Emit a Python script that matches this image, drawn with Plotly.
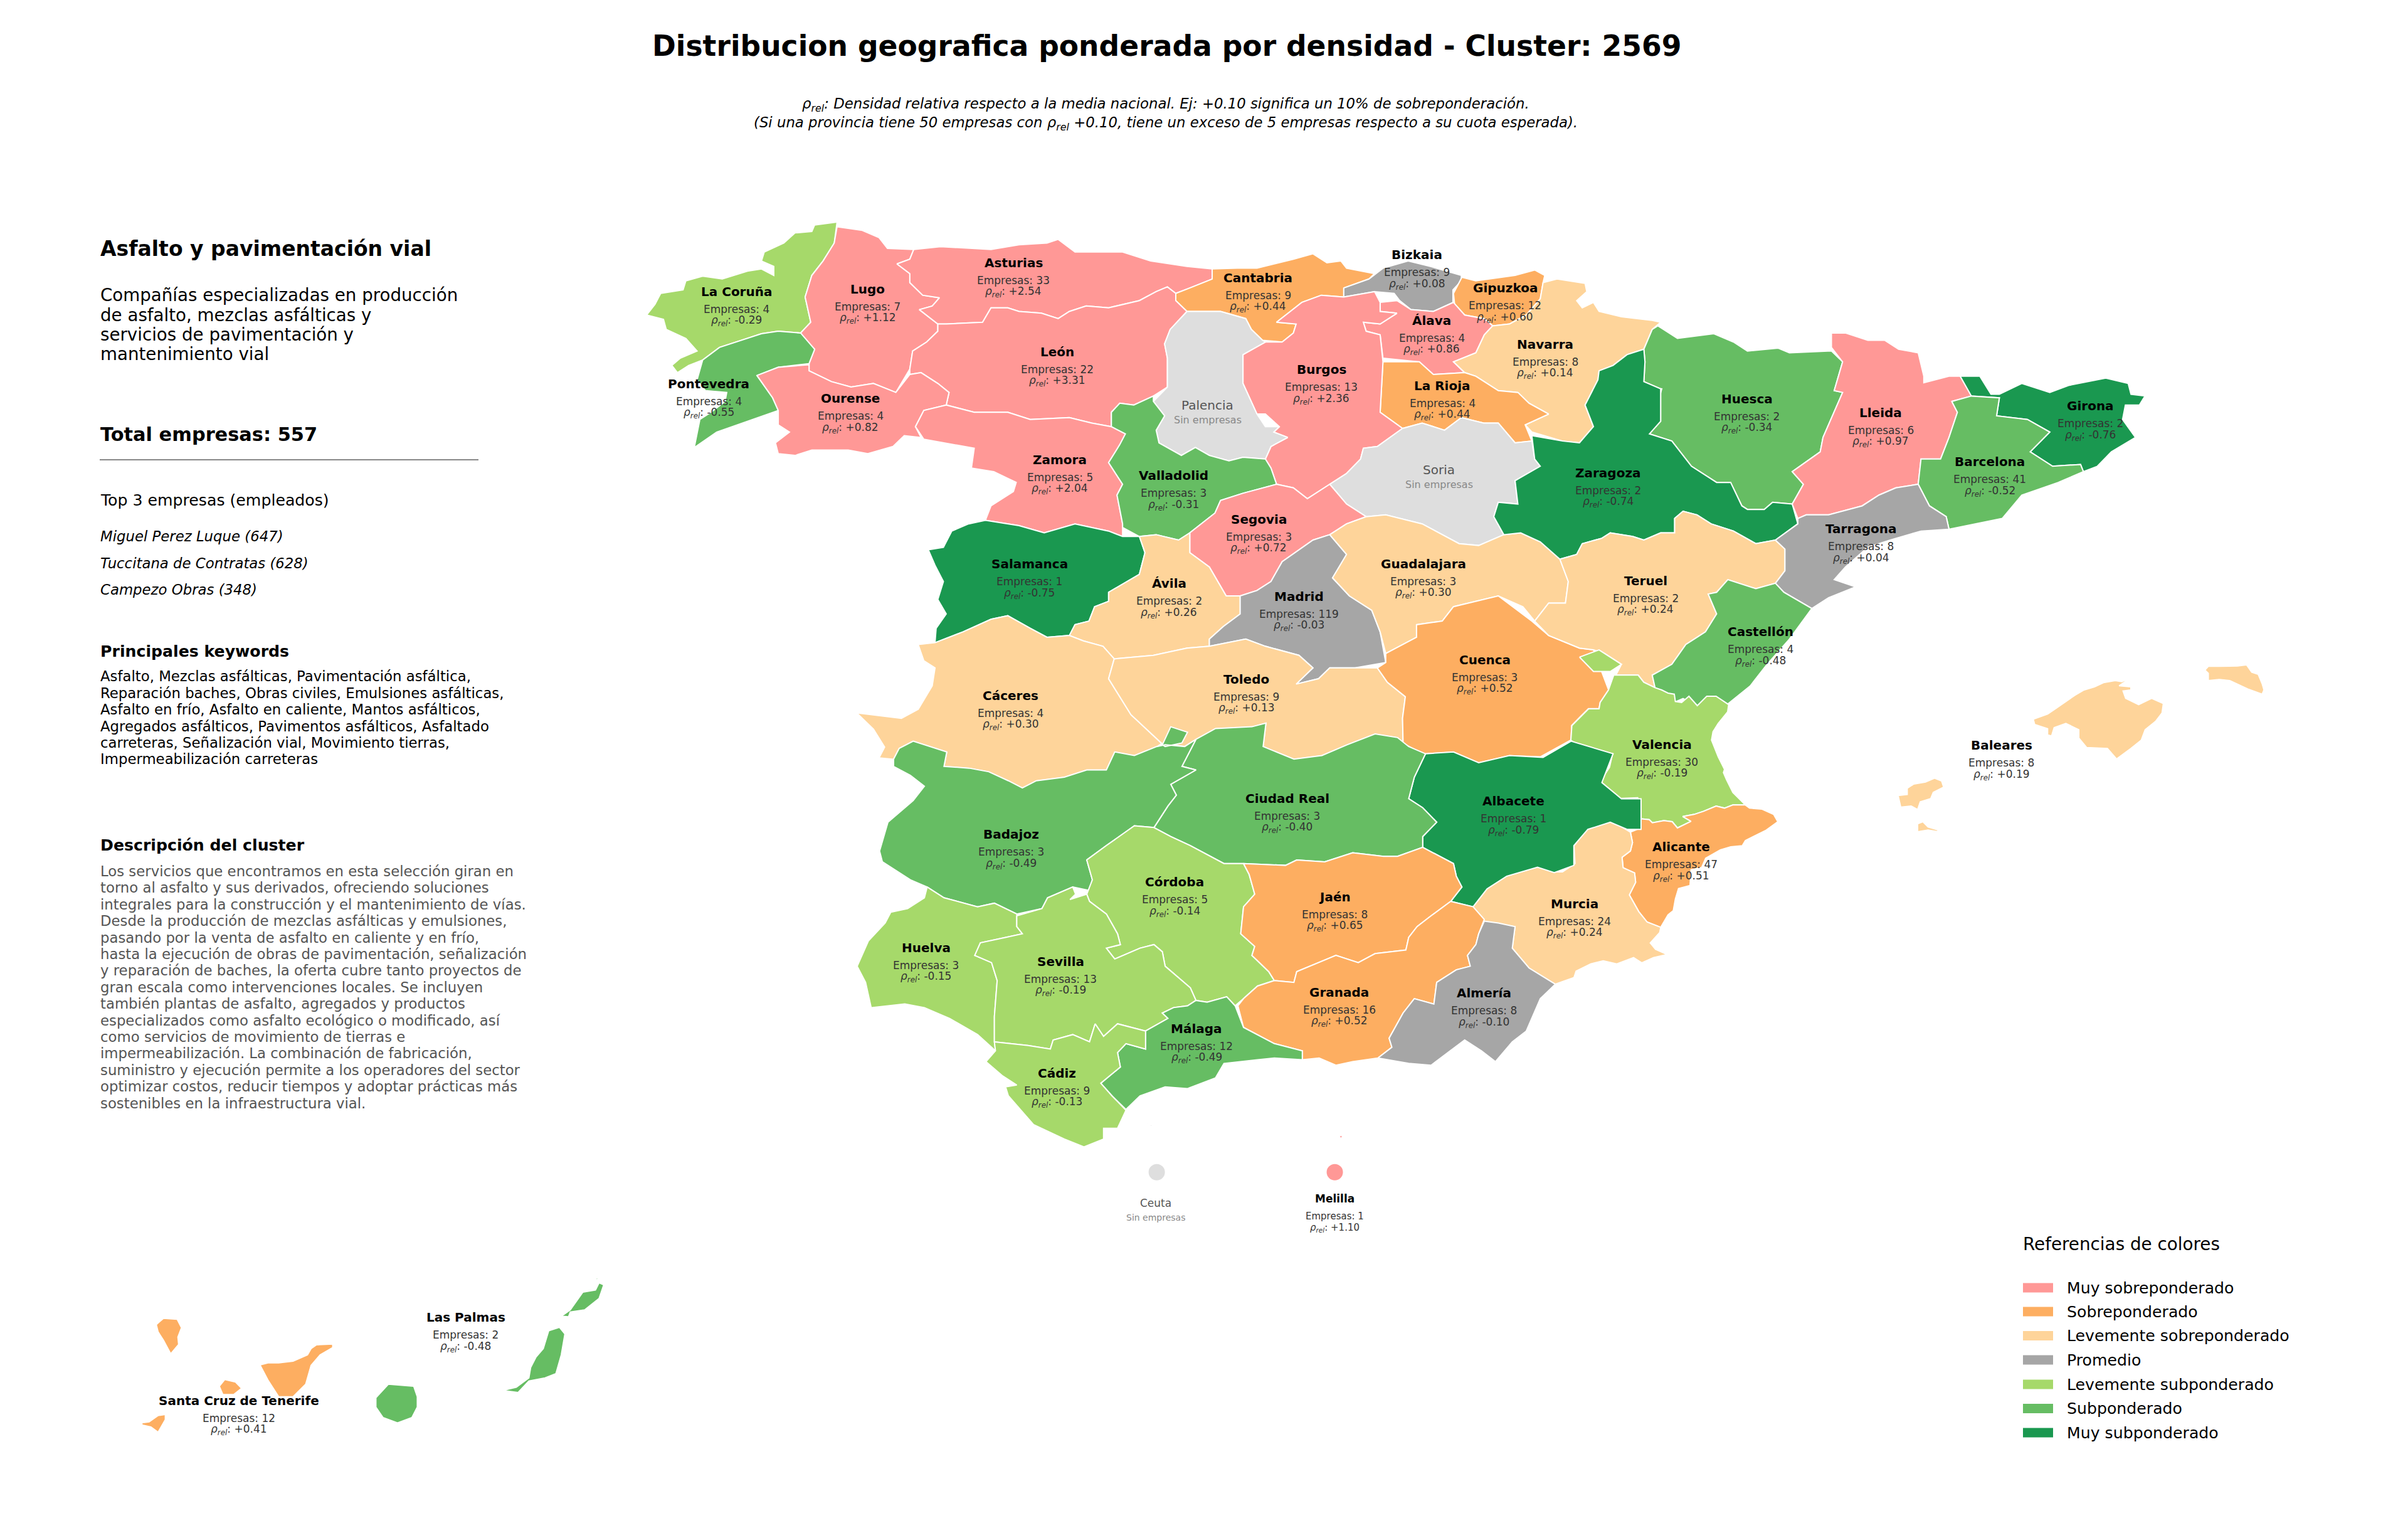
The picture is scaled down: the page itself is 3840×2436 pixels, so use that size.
import numpy as np
import plotly.graph_objects as go

W, H = 3840, 2436
FONT = "DejaVu Sans"

TITLE = "Distribucion geografica ponderada por densidad - Cluster: 2569"
SUBTITLE = ["<i>ρ<sub>rel</sub>: Densidad relativa respecto a la media nacional. Ej: +0.10 significa un 10% de sobreponderación.</i>",
            "<i>(Si una provincia tiene 50 empresas con ρ<sub>rel</sub> +0.10, tiene un exceso de 5 empresas respecto a su cuota esperada).</i>"]

CLASS_NAMES = ["Muy sobreponderado", "Sobreponderado", "Levemente sobreponderado", "Promedio",
               "Levemente subponderado", "Subponderado", "Muy subponderado"]
CLASS_COLORS = ["#FF9896", "#FDAE61", "#FED49A", "#A6A6A6", "#A6D96A", "#66BD63", "#1A9850"]
NO_DATA_COLOR = "#DEDEDE"

PROVINCES = ["La Coruña", "Lugo", "Asturias", "Cantabria", "Bizkaia", "Gipuzkoa", "Álava", "Navarra", "La Rioja", "Burgos",
             "León", "Palencia", "Pontevedra", "Ourense", "Zamora", "Valladolid", "Soria", "Segovia", "Salamanca", "Ávila",
             "Madrid", "Guadalajara", "Cáceres", "Toledo", "Cuenca", "Huesca", "Zaragoza", "Teruel", "Lleida", "Girona",
             "Barcelona", "Tarragona", "Castellón", "Valencia", "Alicante", "Murcia", "Albacete", "Ciudad Real", "Badajoz",
             "Córdoba", "Jaén", "Huelva", "Sevilla", "Granada", "Almería", "Málaga", "Cádiz", "Baleares", "Las Palmas",
             "Santa Cruz de Tenerife", "Ceuta", "Melilla"]
EMPRESAS = [4, 7, 33, 9, 9, 12, 4, 8, 4, 13,
            22, None, 4, 4, 5, 3, None, 3, 1, 2,
            119, 3, 4, 9, 3, 2, 2, 2, 6, 2,
            41, 8, 4, 30, 47, 24, 1, 3, 3,
            5, 8, 3, 13, 16, 8, 12, 9, 8, 2,
            12, None, 1]
RHO = [-0.29, 1.12, 2.54, 0.44, 0.08, 0.60, 0.86, 0.14, 0.44, 2.36,
       3.31, None, -0.55, 0.82, 2.04, -0.31, None, 0.72, -0.75, 0.26,
       -0.03, 0.30, 0.30, 0.13, 0.52, -0.34, -0.74, 0.24, 0.97, -0.76,
       -0.52, 0.04, -0.48, -0.19, 0.51, 0.24, -0.79, -0.40, -0.49,
       -0.14, 0.65, -0.15, -0.19, 0.52, -0.10, -0.49, -0.13, 0.19, -0.48,
       0.41, None, 1.10]

FRAMES = {"N": (1000, 330, 1.12, 1.742), "E": (2300, 330, 1.12, 1.742), "S": (1300, 1150, 1.12, 1.742),
          "V": (2450, 1100, 3.0, 3.0), "B": (3000, 1030, 2.412, 3.0), "C": (100, 2000, 1.742, 3.0)}

OUTLINES = {
 "La Coruña": [("N", [(375,42),(335,50),(330,68),(300,72),(280,100),(245,125),(240,150),(262,165),(262,190),(240,172),(215,178),(170,200),(135,192),(105,205),(100,230),(60,240),(50,270),(35,300),(65,312),(70,340),(105,365),(125,400),(95,420),(80,440),(90,460),(110,440),(135,425),(165,390),(215,365),(240,352),(270,345),(310,350),(328,320),(318,250),(330,190),(350,150),(370,100)])],
 "Pontevedra": [("N", [(310,350),(270,345),(240,352),(215,365),(165,390),(135,425),(125,480),(140,510),(178,515),(175,540),(150,570),(130,590),(120,668),(160,625),(205,600),(270,565),(260,530),(232,468),(270,445),(325,435),(335,395)])],
 "Lugo": [("N", [(375,55),(420,65),(450,85),(465,115),(512,118),(505,145),(482,158),(505,185),(505,210),(528,245),(558,252),(545,275),(522,285),(555,325),(555,345),(535,375),(510,400),(505,450),(480,515),(440,490),(400,500),(365,485),(325,455),(325,435),(335,395),(312,365),(310,350),(328,320),(318,250),(330,190),(350,150),(370,100)])],
 "Asturias": [("N", [(512,118),(560,110),(650,118),(700,105),(750,100),(770,90),(800,125),(850,125),(885,125),(935,150),(1000,165),(1045,172),(1045,200),(1005,225),(980,240),(965,222),(945,235),(915,260),(860,280),(820,275),(790,290),(770,310),(740,295),(700,290),(680,280),(650,280),(635,320),(570,325),(555,325),(522,285),(545,275),(558,252),(528,245),(505,210),(505,185),(482,158),(505,145)])],
 "Cantabria": [("N", [(1045,172),(1090,170),(1125,170),(1190,145),(1225,130),(1250,155),(1275,150),(1285,170),(1335,185),(1325,200),(1280,225),(1280,250),(1240,245),(1205,265),(1185,290),(1160,320),(1195,325),(1190,350),(1170,375),(1135,370),(1115,340),(1105,310),(1060,290),(1000,290),(980,260),(980,240),(1005,225),(1045,200)])],
 "Bizkaia": [("N", [(1280,225),(1325,200),(1350,170),(1395,150),(1435,165),(1490,190),(1490,205),(1475,230),(1475,265),(1440,290),(1400,285),(1380,260),(1370,240),(1335,235),(1280,250)])],
 "Gipuzkoa": [("E", [(35,195),(60,205),(130,190),(165,175),(183,190),(180,210),(175,255),(150,300),(120,325),(90,330),(75,310),(40,300),(22,270),(20,240)])],
 "Álava": [("N", [(1345,265),(1375,260),(1400,285),(1440,290),(1476,265),(1496,300),(1531,310),(1546,330),(1531,355),(1516,405),(1476,430),(1496,460),(1440,465),(1415,430),(1350,420),(1345,355),(1320,345),(1315,320),(1345,325),(1375,295),(1345,290)])],
 "Navarra": [("E", [(205,200),(255,212),(258,235),(240,260),(250,280),(270,265),(280,290),(320,305),(375,315),(390,320),(375,340),(360,395),(330,410),(305,440),(280,455),(278,480),(255,550),(270,610),(245,655),(215,650),(160,625),(148,605),(190,575),(155,545),(135,515),(100,510),(60,470),(40,460),(20,430),(60,405),(75,355),(90,330),(120,325),(150,300),(175,255),(180,210)]),
             ("E", [(300,490),(305,482),(315,488),(310,497)]),
             ("E", [(313,480),(322,470),(330,485)])],
 "La Rioja": [("N", [(1350,430),(1415,430),(1440,465),(1496,460),(1516,470),(1556,510),(1591,515),(1611,545),(1646,575),(1604,605),(1616,650),(1586,655),(1556,600),(1530,600),(1490,585),(1460,620),(1420,600),(1385,615),(1345,570)])],
 "Burgos": [("N", [(1240,245),(1280,250),(1335,235),(1345,265),(1345,290),(1375,295),(1345,325),(1315,320),(1320,345),(1345,355),(1350,430),(1345,570),(1385,615),(1340,665),(1315,670),(1310,700),(1285,740),(1255,770),(1215,810),(1190,780),(1160,770),(1150,725),(1140,700),(1150,665),(1180,640),(1155,625),(1165,610),(1140,575),(1125,575),(1100,490),(1100,410),(1140,375),(1170,375),(1190,350),(1195,325),(1160,320),(1205,265)])],
 "León": [("N", [(570,325),(635,320),(650,280),(680,280),(700,290),(740,295),(770,310),(790,290),(820,275),(860,280),(915,260),(945,235),(965,222),(980,240),(980,260),(1000,290),(970,340),(960,380),(965,420),(965,500),(940,525),(905,550),(880,545),(865,570),(865,610),(830,600),(790,585),(720,590),(680,570),(620,570),(570,550),(575,515),(555,490),(525,460),(505,465),(505,450),(510,400),(535,375),(555,345),(555,325)])],
 "Palencia": [("N", [(1000,290),(1060,290),(1105,310),(1115,340),(1135,370),(1140,375),(1100,410),(1100,490),(1125,575),(1140,610),(1165,610),(1155,625),(1180,640),(1150,665),(1140,700),(1100,695),(1075,705),(1040,690),(1015,668),(990,690),(950,655),(945,620),(960,580),(940,540),(965,500),(965,420),(960,380),(970,340)])],
 "Ourense": [("N", [(232,468),(270,445),(325,438),(325,455),(365,485),(400,500),(440,490),(480,515),(505,465),(525,460),(555,490),(575,515),(570,550),(530,565),(515,610),(525,640),(495,635),(475,665),(430,685),(395,675),(330,675),(300,690),(270,685),(265,655),(290,625),(270,605),(270,565),(260,530)])],
 "Zamora": [("N", [(570,550),(620,570),(680,570),(720,590),(790,585),(830,600),(865,610),(890,630),(880,660),(860,710),(885,770),(875,800),(885,880),(885,915),(860,900),(800,880),(745,905),(700,885),(640,870),(650,830),(690,790),(695,765),(655,735),(615,725),(620,670),(530,645),(515,610),(530,565)])],
 "Valladolid": [("N", [(865,570),(880,545),(905,550),(940,525),(940,540),(960,580),(945,620),(950,655),(990,690),(1015,668),(1040,690),(1075,705),(1100,695),(1140,700),(1150,725),(1160,770),(1100,795),(1060,815),(1050,850),(1005,905),(985,925),(945,910),(915,915),(885,890),(885,880),(875,800),(885,770),(860,710),(880,660),(890,630),(865,610)])],
 "Soria": [("N", [(1385,615),(1420,600),(1460,620),(1490,585),(1530,600),(1556,600),(1586,655),(1616,650),(1621,700),(1631,720),(1586,760),(1591,825),(1556,820),(1548,860),(1566,910),(1521,940),(1486,935),(1456,910),(1420,880),(1380,865),(1355,855),(1320,860),(1285,825),(1255,770),(1285,740),(1310,700),(1315,670),(1340,665)])],
 "Segovia": [("N", [(1160,770),(1190,780),(1215,810),(1255,770),(1285,825),(1320,860),(1285,880),(1255,910),(1225,925),(1170,985),(1150,1040),(1125,1065),(1095,1080),(1070,1080),(1040,1000),(1005,960),(1005,905),(1050,850),(1060,815),(1100,795)])],
 "Salamanca": [("N", [(640,870),(700,885),(745,905),(800,880),(860,900),(885,915),(915,915),(925,960),(915,1020),(860,1070),(860,1095),(835,1110),(825,1150),(800,1160),(790,1190),(750,1195),(720,1170),(680,1135),(650,1145),(600,1180),(550,1210),(552,1170),(570,1130),(555,1090),(565,1040),(550,995),(538,952),(565,945),(580,900),(610,880)])],
 "Ávila": [("N", [(915,915),(945,910),(985,925),(1005,905),(1005,960),(1040,1000),(1070,1080),(1095,1080),(1095,1130),(1065,1165),(1040,1200),(1040,1220),(1000,1225),(940,1245),(870,1255),(850,1220),(815,1205),(790,1190),(800,1160),(825,1150),(835,1110),(860,1095),(860,1070),(915,1020),(925,960)])],
 "Madrid": [("N", [(1255,910),(1285,965),(1260,1030),(1290,1080),(1330,1120),(1345,1180),(1355,1265),(1300,1280),(1255,1280),(1235,1310),(1195,1325),(1225,1280),(1200,1245),(1140,1220),(1105,1200),(1040,1220),(1040,1200),(1065,1165),(1095,1130),(1095,1080),(1125,1065),(1150,1040),(1170,985),(1225,925)])],
 "Guadalajara": [("N", [(1285,880),(1320,860),(1355,855),(1380,865),(1420,880),(1456,910),(1486,935),(1521,940),(1566,910),(1596,905),(1631,930),(1666,978),(1681,1040),(1676,1100),(1646,1100),(1621,1150),(1600,1110),(1556,1080),(1476,1110),(1456,1150),(1410,1160),(1410,1195),(1355,1240),(1345,1180),(1330,1120),(1290,1080),(1260,1030),(1285,965),(1255,910)])],
 "Cáceres": [("N", [(550,1210),(600,1180),(650,1145),(680,1135),(720,1170),(750,1195),(790,1190),(815,1205),(850,1220),(870,1255),(860,1310),(900,1410),(955,1490),(946,1499),(906,1524),(871,1514),(856,1564),(821,1564),(781,1584),(731,1594),(706,1614),(681,1594),(646,1569),(611,1559),(566,1554),(571,1514),(511,1484),(486,1504),(476,1534),(450,1530),(460,1500),(440,1450),(410,1405),(490,1420),(520,1395),(545,1330),(550,1280),(530,1260),(520,1215)])],
 "Toledo": [("N", [(870,1255),(940,1245),(1000,1225),(1040,1220),(1105,1200),(1140,1220),(1200,1245),(1225,1280),(1195,1325),(1235,1310),(1255,1280),(1300,1280),(1340,1280),(1358,1320),(1390,1360),(1385,1420),(1386,1489),(1376,1474),(1336,1464),(1286,1494),(1241,1524),(1191,1534),(1136,1499),(1141,1434),(1116,1444),(1051,1449),(1016,1479),(996,1498),(955,1490),(900,1410),(860,1310)])],
 "Cuenca": [("N", [(1355,1240),(1410,1195),(1410,1160),(1456,1150),(1476,1110),(1556,1080),(1616,1150),(1646,1190),(1701,1225),(1726,1230),(1753,1341),(1738,1376),(1736,1393),(1717,1393),(1702,1416),(1687,1440),(1686,1480),(1631,1527),(1576,1524),(1521,1544),(1476,1514),(1421,1519),(1386,1489),(1385,1420),(1390,1360),(1358,1320),(1340,1280),(1355,1265)])],
 "Huesca": [("E", [(385,330),(420,365),(485,352),(520,375),(545,400),(600,392),(620,405),(695,400),(715,430),(700,510),(715,515),(680,640),(675,680),(625,735),(645,770),(625,825),(590,820),(575,840),(545,840),(535,830),(515,765),(490,765),(445,720),(410,650),(370,630),(390,595),(390,505),(360,485),(362,430),(360,395),(375,340)]),
            ("E", [(360,545),(372,502),(392,505),(385,545)])],
 "Zaragoza": [("E", [(360,395),(330,410),(305,440),(280,455),(278,480),(255,550),(270,610),(245,655),(215,650),(160,635),(165,700),(175,720),(130,760),(135,825),(100,820),(92,860),(110,910),(140,905),(175,930),(210,978),(240,965),(250,935),(285,920),(300,905),(340,915),(360,925),(390,905),(415,905),(415,865),(430,845),(455,855),(480,880),(520,900),(560,935),(595,925),(635,880),(625,825),(590,820),(575,840),(545,840),(535,830),(515,765),(490,765),(445,720),(410,650),(370,630),(390,595),(390,505),(360,485),(362,430)])],
 "Teruel": [("E", [(210,978),(240,965),(250,935),(285,920),(300,905),(340,915),(360,925),(390,905),(415,905),(415,865),(430,845),(455,855),(480,880),(520,900),(560,935),(595,925),(612,950),(612,1010),(595,1045),(560,1060),(510,1035),(490,1070),(475,1075),(490,1130),(470,1180),(435,1215),(410,1270),(375,1300),(380,1335),(360,1320),(350,1300),(310,1300),(320,1270),(290,1240),(270,1230),(245,1225),(190,1190),(165,1150),(190,1100),(220,1100),(225,1040)])],
 "Lleida": [("E", [(695,350),(720,350),(760,370),(790,370),(815,395),(850,405),(860,470),(860,488),(905,470),(925,470),(945,525),(910,540),(920,570),(905,640),(890,700),(855,700),(850,770),(810,780),(780,800),(750,830),(690,855),(650,855),(635,865),(625,825),(645,770),(625,735),(675,680),(680,640),(715,515),(700,510),(715,430),(695,390)])],
 "Girona": [("E", [(925,470),(960,470),(980,520),(995,520),(1035,490),(1085,515),(1120,495),(1185,475),(1225,490),(1230,520),(1255,525),(1245,550),(1220,550),(1215,590),(1238,640),(1195,680),(1170,720),(1145,735),(1140,715),(1090,720),(1050,680),(1085,625),(1045,590),(990,580),(995,530),(945,525)])],
 "Barcelona": [("E", [(910,540),(945,525),(995,530),(990,580),(1045,590),(1085,625),(1050,680),(1090,720),(1140,715),(1145,735),(1100,765),(1035,800),(1000,865),(905,895),(900,860),(870,830),(850,770),(855,700),(890,700),(905,640),(920,570)])],
 "Tarragona": [("E", [(850,770),(870,830),(900,860),(905,895),(855,900),(800,925),(760,945),(720,1000),(700,1035),(738,1055),(690,1085),(660,1115),(610,1070),(595,1045),(612,1010),(612,950),(595,925),(635,880),(635,865),(650,855),(690,855),(750,830),(780,800),(810,780)])],
 "Castellón": [("E", [(510,1035),(560,1060),(595,1045),(610,1070),(660,1115),(620,1200),(580,1270),(550,1330),(510,1380),(470,1370),(455,1385),(430,1365),(415,1375),(395,1345),(380,1335),(375,1300),(410,1270),(435,1215),(470,1180),(490,1130),(475,1075),(490,1070)])],
 "Valencia": [("V", [(370,-71),(487,-71),(514,-37),(568,-11),(600,0),(630,15),(660,20),(665,55),(695,60),(730,30),(770,75),(815,30),(860,30),(920,70),(915,105),(870,160),(845,200),(838,240),(870,320),(900,380),(895,395),(910,430),(940,490),(1000,550),(940,550),(900,565),(860,555),(800,580),(755,595),(700,605),(740,628),(675,660),(650,630),(610,625),(555,635),(540,620),(490,615),(497,605),(498,545),(485,515),(375,520),(320,460),(310,430),(350,370),(365,305),(280,290),(210,270),(165,240),(170,170),(210,130),(250,90),(300,90),(305,60),(345,0)]),
              ("E", [(245,1250),(280,1230),(320,1270),(300,1290),(270,1290)])],
 "Alicante": [("V", [(490,615),(540,620),(555,635),(610,625),(650,630),(675,660),(740,628),(700,605),(755,595),(800,580),(860,555),(900,565),(940,550),(1000,550),(1020,565),(1080,570),(1135,595),(1155,630),(1100,670),(1060,690),(1000,720),(985,745),(930,750),(880,765),(810,805),(790,850),(740,860),(735,935),(680,950),(665,1000),(655,1055),(630,1075),(595,1135),(530,1110),(490,1060),(445,980),(475,920),(470,875),(415,850),(410,800),(450,770),(460,730),(450,680),(500,660)])],
 "Murcia": [("V", [(355,625),(400,635),(400,650),(450,680),(460,730),(450,770),(410,800),(415,850),(470,875),(475,920),(445,980),(490,1060),(530,1110),(595,1135),(590,1160),(545,1210),(570,1240),(625,1265),(560,1280),(505,1305),(465,1280),(385,1310),(320,1295),(260,1310),(190,1345),(180,1375),(91,1407),(-35,1330),(-115,1235),(-102,1132),(-249,1106),(-303,1037),(-236,951),(-142,890),(5,847),(25,838),(70,840),(75,870),(125,870),(185,830),(180,745),(200,720),(205,690),(240,655),(265,660)])],
 "Albacete": [("S", [(1090,90),(1140,85),(1185,115),(1240,95),(1300,100),(1350,55),(1425,90),(1405,170),(1440,215),(1475,215),(1475,300),(1450,300),(1420,280),(1380,300),(1355,345),(1355,400),(1320,420),(1290,405),(1235,430),(1200,465),(1175,515),(1135,500),(1155,460),(1145,430),(1140,395),(1085,350),(1085,320),(1110,280),(1085,240),(1060,215),(1070,155)])],
 "Ciudad Real": [("S", [(680,50),(715,20),(780,15),(805,5),(800,70),(855,105),(905,95),(950,65),(1000,35),(1040,45),(1060,70),(1090,90),(1070,155),(1060,215),(1085,240),(1110,280),(1085,320),(1085,350),(1040,375),(1015,375),(960,365),(910,390),(860,385),(840,400),(765,395),(730,395),(670,345),(635,320),(605,295),(630,235),(645,205),(635,175),(680,135),(655,125)])],
 "Badajoz": [("S", [(140,105),(150,75),(175,55),(235,85),(230,125),(275,130),(310,140),(345,165),(370,185),(395,165),(445,155),(485,135),(520,135),(535,85),(570,95),(610,70),(625,65),(660,70),(680,50),(655,125),(680,135),(635,175),(645,205),(630,235),(605,295),(570,290),(520,345),(485,385),(495,440),(490,470),(460,460),(415,490),(405,520),(360,535),(320,505),(290,515),(230,490),(200,460),(170,440),(120,390),(115,360),(130,280),(175,220),(195,180),(170,150),(140,125)]),
             ("S", [(620,65),(635,15),(665,30),(655,60),(625,70)])],
 "Córdoba": [("S", [(605,295),(635,320),(670,345),(730,395),(765,395),(775,425),(785,480),(765,515),(760,590),(785,625),(780,650),(810,695),(820,720),(790,735),(765,770),(750,790),(735,765),(700,780),(680,775),(670,740),(640,700),(625,680),(620,640),(605,620),(580,630),(535,660),(520,630),(545,620),(540,590),(520,535),(490,500),(485,480),(495,440),(485,385),(520,345),(570,290)])],
 "Jaén": [("S", [(765,395),(840,400),(860,385),(910,390),(960,365),(1015,375),(1040,375),(1085,350),(1140,395),(1145,430),(1155,460),(1135,500),(1100,540),(1075,570),(1060,600),(1055,635),(1000,645),(970,670),(930,650),(860,695),(855,725),(820,720),(810,695),(780,650),(785,625),(760,590),(765,515),(785,480),(775,425)])],
 "Huelva": [("S", [(200,460),(230,490),(290,515),(320,505),(360,535),(360,570),(370,590),(340,600),(295,615),(285,650),(315,670),(325,720),(320,820),(320,890),(322,915),(290,870),(240,825),(195,795),(160,785),(100,795),(90,725),(75,680),(95,610),(125,560),(135,530),(165,520),(195,490)])],
 "Sevilla": [("S", [(360,540),(405,520),(415,490),(460,460),(465,480),(455,495),(485,480),(490,500),(520,535),(540,590),(545,620),(520,630),(535,660),(580,630),(605,620),(620,640),(625,680),(640,700),(670,740),(680,775),(665,790),(640,795),(620,810),(630,825),(590,860),(540,840),(515,875),(500,840),(490,890),(460,870),(425,885),(420,910),(380,900),(320,890),(320,820),(325,720),(315,670),(285,650),(295,615),(340,600),(370,590),(360,570)])],
 "Granada": [("S", [(1135,500),(1175,515),(1195,550),(1185,590),(1180,620),(1165,650),(1170,680),(1145,690),(1110,725),(1105,785),(1070,770),(1050,810),(1025,880),(1030,905),(1005,935),(960,945),(930,955),(900,935),(870,940),(870,915),(820,895),(765,850),(755,790),(765,770),(790,735),(820,720),(855,725),(860,695),(930,650),(970,670),(1000,645),(1055,635),(1060,600),(1075,570),(1100,540)])],
 "Almería": [("S", [(1195,555),(1220,560),(1250,570),(1245,630),(1275,685),(1322,730),(1295,770),(1270,860),(1245,890),(1215,945),(1190,915),(1160,885),(1130,920),(1100,955),(1060,950),(1005,935),(1030,905),(1025,880),(1050,810),(1070,770),(1105,785),(1110,725),(1145,690),(1170,680),(1165,650),(1180,620),(1185,590)])],
 "Málaga": [("S", [(590,860),(630,825),(620,810),(640,795),(665,790),(680,775),(700,780),(735,765),(750,790),(765,850),(820,895),(870,915),(870,940),(820,935),(790,940),(730,950),(715,990),(665,1020),(625,1015),(580,1040),(555,1078),(530,1040),(510,1005),(545,960),(540,920),(555,895),(590,910)])],
 "Cádiz": [("S", [(320,890),(380,900),(420,910),(425,885),(460,870),(490,890),(500,840),(515,875),(540,840),(590,860),(590,910),(555,895),(540,920),(545,960),(510,1005),(530,1040),(555,1080),(540,1130),(515,1130),(515,1160),(480,1182),(445,1160),(390,1120),(345,1040),(340,1015),(360,1010),(335,985),(305,945),(322,915)])],
 "Baleares": [("B", [(585,350),(640,325),(670,300),(710,265),(745,235),(780,210),(820,195),(855,175),(900,165),(925,170),(960,152),(915,190),(960,195),(960,210),(930,215),(940,250),(990,280),(1040,250),(1085,275),(1080,320),(1055,360),(1015,400),(1000,450),(960,490),(905,540),(870,490),(790,485),(760,440),(760,400),(710,370),(665,390),(655,430),(640,425),(640,395),(590,375)]),
              ("B", [(1245,115),(1258,97),(1300,97),(1370,95),(1405,90),(1425,125),(1450,135),(1465,180),(1472,210),(1465,230),(1410,205),(1340,165),(1300,160),(1258,165),(1258,130)]),
              ("B", [(65,715),(100,710),(100,680),(125,660),(170,650),(205,632),(232,645),(240,675),(200,700),(190,730),(150,745),(140,782),(115,765),(75,770)]),
              ("B", [(140,850),(160,840),(180,865),(220,880),(215,887),(180,880),(140,888)]),
              ("B", [(845,612),(855,612),(850,618)])],
 "Las Palmas": [("C", [(905,620),(945,625),(975,630),(985,680),(985,730),(970,780),(930,805),(890,780),(870,730),(870,685)]),
                ("C", [(1350,365),(1380,348),(1395,380),(1385,480),(1370,570),(1340,590),(1295,605),(1265,660),(1222,650),(1260,635),(1295,590),(1300,540),(1315,490),(1335,450)]),
                ("C", [(1385,295),(1410,265),(1445,180),(1480,170),(1490,135),(1503,145),(1490,210),(1450,265),(1410,275),(1405,298)]),
                ("C", [(1477,125),(1485,108),(1487,118)])],
 "Santa Cruz de Tenerife": [("C", [(260,335),(280,305),(318,310),(330,350),(320,395),(322,430),(300,475),(280,410),(265,370)]),
                            ("C", [(435,630),(450,598),(480,610),(497,640),(475,670),(445,670)]),
                            ("C", [(548,528),(570,518),(600,518),(640,510),(680,480),(690,450),(705,432),(750,428),(750,445),(715,480),(690,530),(675,620),(640,680),(600,680),(570,600)]),
                            ("C", [(220,805),(240,800),(265,770),(285,765),(285,790),(265,850),(245,825),(220,815)])],
 "Melilla": [("S", [(935,1150),(943,1150),(939,1160)])],
 "Ceuta": [("S", [(593,1118),(603,1122),(600,1126)])],
}

NAME_AT = {"La Coruña": ("N",195,235), "Lugo": ("N",430,228), "Asturias": ("N",690,155), "Cantabria": ("N",1127,196),
           "Bizkaia": ("N",1411,133), "Álava": ("N",1437,315), "Burgos": ("N",1240,452), "León": ("N",768,402),
           "Palencia": ("N",1037,551), "Pontevedra": ("N",146,491), "Ourense": ("N",399,532), "Zamora": ("N",773,702),
           "Valladolid": ("N",976,746), "La Rioja": ("N",1456,496), "Soria": ("N",1450,730), "Segovia": ("N",1128,867),
           "Salamanca": ("N",719,992), "Ávila": ("N",968,1046), "Madrid": ("N",1200,1081), "Guadalajara": ("N",1422,991),
           "Cáceres": ("N",685,1357), "Toledo": ("N",1106,1311), "Cuenca": ("E",76,1257), "Gipuzkoa": ("E",112,225),
           "Navarra": ("E",184,381), "Huesca": ("E",544,533), "Zaragoza": ("E",296,738), "Lleida": ("E",783,571),
           "Girona": ("E",1157,553), "Barcelona": ("E",978,708), "Tarragona": ("E",748,894), "Teruel": ("E",363,1038),
           "Castellón": ("E",568,1180), "Valencia": ("V",600,260), "Alicante": ("V",692,750), "Murcia": ("V",183,1022),
           "Baleares": ("B",463,475), "Badajoz": ("S",350,314), "Ciudad Real": ("S",843,214), "Albacete": ("S",1247,222),
           "Córdoba": ("S",642,446), "Jaén": ("S",928,487), "Huelva": ("S",198,628), "Sevilla": ("S",438,667),
           "Granada": ("S",936,752), "Almería": ("S",1195,755), "Málaga": ("S",681,853), "Cádiz": ("S",432,977),
           "Ceuta": ("S",608,1337), "Melilla": ("S",928,1325), "Las Palmas": ("C",1120,300),
           "Santa Cruz de Tenerife": ("C",490,698)}
ENCLAVE_DOTS = {"Ceuta": ("S",610,1252), "Melilla": ("S",928,1252)}

PANEL_LINES = [
 ("Asfalto y pavimentación vial", 396, 33, True, False),
 ("Compañías especializadas en producción", 470, 27.7, False, False),
 ("de asfalto, mezclas asfálticas y", 502, 27.7, False, False),
 ("servicios de pavimentación y", 533.5, 27.7, False, False),
 ("mantenimiento vial", 564.5, 27.7, False, False),
 ("Total empresas: 557", 692.5, 30.4, True, False),
 ("Top 3 empresas (empleados)", 797.5, 25.2, False, False),
 ("Miguel Perez Luque (647)", 855, 22.8, False, True),
 ("Tuccitana de Contratas (628)", 898, 22.8, False, True),
 ("Campezo Obras (348)", 940, 22.8, False, True),
 ("Principales keywords", 1038, 25.2, True, False),
 ("Asfalto, Mezclas asfálticas, Pavimentación asfáltica,", 1078, 22.8, False, False),
 ("Reparación baches, Obras civiles, Emulsiones asfálticas,", 1105, 22.8, False, False),
 ("Asfalto en frío, Asfalto en caliente, Mantos asfálticos,", 1131, 22.8, False, False),
 ("Agregados asfálticos, Pavimentos asfálticos, Asfaltado", 1158, 22.8, False, False),
 ("carreteras, Señalización vial, Movimiento tierras,", 1184, 22.8, False, False),
 ("Impermeabilización carreteras", 1210, 22.8, False, False),
 ("Descripción del cluster", 1347, 25.2, True, False),
]
DESCRIPTION = ["Los servicios que encontramos en esta selección giran en",
               "torno al asfalto y sus derivados, ofreciendo soluciones",
               "integrales para la construcción y el mantenimiento de vías.",
               "Desde la producción de mezclas asfálticas y emulsiones,",
               "pasando por la venta de asfalto en caliente y en frío,",
               "hasta la ejecución de obras de pavimentación, señalización",
               "y reparación de baches, la oferta cubre tanto proyectos de",
               "gran escala como intervenciones locales. Se incluyen",
               "también plantas de asfalto, agregados y productos",
               "especializados como asfalto ecológico o modificado, así",
               "como servicios de movimiento de tierras e",
               "impermeabilización. La combinación de fabricación,",
               "suministro y ejecución permite a los operadores del sector",
               "optimizar costos, reducir tiempos y adoptar prácticas más",
               "sostenibles en la infraestructura vial."]


def to_px(frame, u, v):
    x0, y0, sx, sy = FRAMES[frame]
    return x0 + u / sx, y0 + v / sy


def class_color(rho):
    if rho is None:
        return NO_DATA_COLOR
    # class limits, from high to low
    limits = [0.70, 0.40, 0.10, -0.12, -0.30, -0.70]
    for i, lim in enumerate(limits):
        if rho >= lim:
            return CLASS_COLORS[i]
    return CLASS_COLORS[-1]


fig = go.Figure()

for name, n, rho in zip(PROVINCES, EMPRESAS, RHO):
    xs, ys = [], []
    for frame, pts in OUTLINES[name]:
        for u, v in pts + [pts[0]]:
            x, y = to_px(frame, u, v)
            xs.append(x)
            ys.append(y)
        xs.append(None)
        ys.append(None)
    fig.add_trace(go.Scatter(x=xs, y=ys, mode="lines", fill="toself", fillcolor=class_color(rho),
                             line=dict(color="#FFFFFF", width=2), hoverinfo="text", text=name, showlegend=False))

for name, (frame, u, v) in ENCLAVE_DOTS.items():
    x, y = to_px(frame, u, v)
    fig.add_trace(go.Scatter(x=[x], y=[y], mode="markers", showlegend=False,
                             marker=dict(size=26, color=class_color(RHO[PROVINCES.index(name)]), line=dict(width=0))))

ann = []


def text(x, y, s, size, bold=False, color="#000000", anchor="center", italic=False):
    if bold:
        s = f"<b>{s}</b>"
    if italic:
        s = f"<i>{s}</i>"
    ann.append(dict(x=x, y=y, xref="x", yref="y", text=s, showarrow=False, xanchor=anchor, yanchor="middle",
                    font=dict(family=FONT, size=size, color=color)))


text(1860, 73, TITLE, 45.6, bold=True)
text(1859, 167, SUBTITLE[0], 22.8)
text(1859, 197, SUBTITLE[1], 22.8)

for s, y, size, bold, italic in PANEL_LINES:
    text(158, y, s, size, bold=bold, italic=italic, anchor="left")
for i, s in enumerate(DESCRIPTION):
    text(158, 1389 + i * 26.4, s, 22.8, color="#555555", anchor="left")

for name, n, rho in zip(PROVINCES, EMPRESAS, RHO):
    frame, u, v = NAME_AT[name]
    x, y = to_px(frame, u, v)
    small = name in ("Ceuta", "Melilla")
    if rho is None:
        text(x, y, name, 17 if small else 20, color="#555555")
        text(x, y + 23, "Sin empresas", 14 if small else 16, color="#888888")
    else:
        text(x, y, name, 17 if small else 20, bold=True)
        text(x, y + 28, f"Empresas: {n}", 15 if small else 17, color="#333333")
        text(x, y + 47, f"<i>ρ</i><sub><i>rel</i></sub>: {rho:+.2f}", 15 if small else 17, color="#333333")

shapes = [dict(type="line", xref="x", yref="y", x0=159, x1=763, y0=733, y1=733, line=dict(color="#888888", width=2))]
text(3224, 1983, "Referencias de colores", 27.8, anchor="left")
LEGEND_Y = [2053, 2091, 2129.5, 2168, 2207, 2245.5, 2284]
for cname, ccolor, y in zip(CLASS_NAMES, CLASS_COLORS, LEGEND_Y):
    shapes.append(dict(type="rect", xref="x", yref="y", x0=3226, x1=3274, y0=y - 7.5, y1=y + 7.5,
                       fillcolor=ccolor, line=dict(width=0)))
    text(3294, y, cname, 25.2, anchor="left")

fig.update_layout(width=W, height=H, margin=dict(l=0, r=0, t=0, b=0), paper_bgcolor="#FFFFFF", plot_bgcolor="#FFFFFF",
                  xaxis=dict(range=[0, W], visible=False, fixedrange=True),
                  yaxis=dict(range=[H, 0], visible=False, fixedrange=True),
                  annotations=ann, shapes=shapes, showlegend=False)

fig.write_html("out.html", config={"displayModeBar": False}, post_script="document.body.style.margin='0';")
